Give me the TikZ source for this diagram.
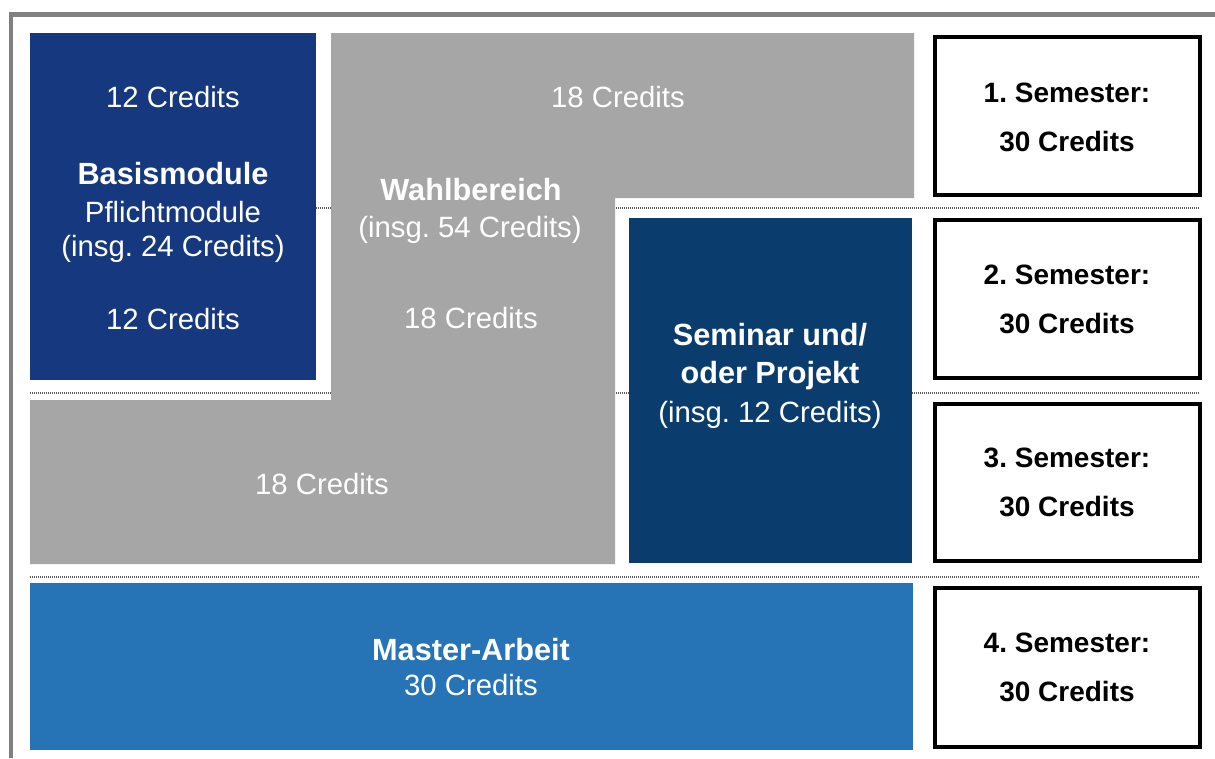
\documentclass[tikz,border=0pt]{standalone}
\usepackage{fontspec}
\setmainfont{Liberation Sans}
\definecolor{basisblue}{RGB}{22,56,126}
\definecolor{semblue}{RGB}{10,61,110}
\definecolor{masterblue}{RGB}{38,116,182}
\definecolor{wahlgray}{RGB}{166,166,166}
\definecolor{framegray}{RGB}{128,128,128}
\definecolor{sepgray}{RGB}{90,90,90}
\begin{document}
\frenchspacing
\begin{tikzpicture}[x=0.75pt,y=-0.75pt,
  wtxt/.style={text=white, inner sep=0pt, anchor=base, font=\fontsize{22}{26}\selectfont},
  wbold/.style={wtxt, font=\fontsize{23}{27}\selectfont\bfseries},
  semtxt/.style={text=black, inner sep=0pt, anchor=base, font=\fontsize{21}{25}\selectfont\bfseries},
  semframe/.style={draw=black, line width=2.6pt, fill=white},
  sepline/.style={draw=sepgray, line width=0.8pt, dash pattern=on 0.75pt off 0.75pt},
  frameline/.style={draw=framegray, line width=3.7pt}]
\useasboundingbox (0,0) rectangle (1215,758);
\fill[white] (0,0) rectangle (1215,758);
% outer frame
\coordinate (fA) at (11,758);
\coordinate (fB) at (11,14.5);
\coordinate (fC) at (1215,14.5);
\draw[frameline] (fA) -- (fB) -- (fC);
% semester separators
\coordinate (s1a) at (30,208);  \coordinate (s1b) at (1200,208);
\coordinate (s2a) at (30,393);  \coordinate (s2b) at (1200,393);
\coordinate (s3a) at (30,577);  \coordinate (s3b) at (1200,577);
\draw[sepline] (s1a) -- (s1b);
\draw[sepline] (s2a) -- (s2b);
\draw[sepline] (s3a) -- (s3b);
% Wahlbereich (grey area)
\fill[wahlgray] (331,33) -- (914,33) -- (914,198) -- (615,198) -- (615,564)
  -- (30,564) -- (30,400) -- (331,400) -- cycle;
% Basismodule
\fill[basisblue] (30,33) rectangle (316,380);
% Seminar / Projekt
\fill[semblue] (629,218) rectangle (912,563);
% Master-Arbeit
\fill[masterblue] (30,583) rectangle (913,750);
% semester boxes
\draw[semframe] (935,37) rectangle (1200,195);
\draw[semframe] (935,220) rectangle (1200,378);
\draw[semframe] (935,404) rectangle (1200,561);
\draw[semframe] (935,588) rectangle (1200,747);
% texts: Basismodule
\node[wtxt]  (b12a) at (173,107) {12 Credits};
\node[wbold] (bas)  at (173,184) {Basismodule};
\node[wtxt]  (pfl)  at (173,222) {Pflichtmodule};
\node[wtxt]  (b24)  at (173,256) {(insg. 24 Credits)};
\node[wtxt]  (b12b) at (173,329) {12 Credits};
% texts: Wahlbereich
\node[wtxt]  (w18a) at (618,107) {18 Credits};
\node[wbold] (wahl) at (471,200) {Wahlbereich};
\node[wtxt]  (w54)  at (470,237) {(insg. 54 Credits)};
\node[wtxt]  (w18b) at (471,328) {18 Credits};
\node[wtxt]  (w18c) at (322,494) {18 Credits};
% texts: Seminar
\node[wbold] (sem1) at (770,345) {Seminar und/};
\node[wbold] (sem2) at (770,383) {oder Projekt};
\node[wtxt]  (sem3) at (770,422) {(insg. 12 Credits)};
% texts: Master
\node[wbold] (ma)   at (471,660) {Master-Arbeit};
\node[wtxt]  (ma30) at (471,695) {30 Credits};
% semester texts
\node[semtxt] (t1a) at (1067,102) {1. Semester:};
\node[semtxt] (t1b) at (1067,151) {30 Credits};
\node[semtxt] (t2a) at (1067,284) {2. Semester:};
\node[semtxt] (t2b) at (1067,333) {30 Credits};
\node[semtxt] (t3a) at (1067,467) {3. Semester:};
\node[semtxt] (t3b) at (1067,516) {30 Credits};
\node[semtxt] (t4a) at (1067,652) {4. Semester:};
\node[semtxt] (t4b) at (1067,701) {30 Credits};
\end{tikzpicture}
\end{document}
